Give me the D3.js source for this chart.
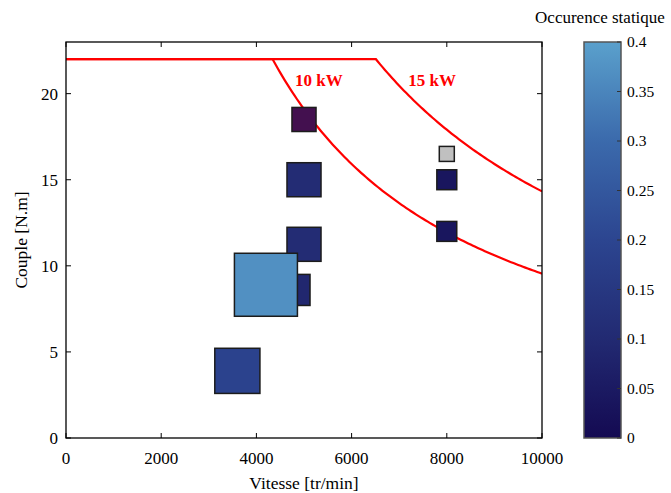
<!DOCTYPE html>
<html><head><meta charset="utf-8">
<script src="https://cdn.jsdelivr.net/npm/d3@7"></script>
<style>body{margin:0;background:#fff}svg{display:block}text{font-family:"Liberation Serif","Times New Roman",serif}</style>
</head><body><svg id="c" width="671" height="493"></svg>
<script>
// Data
const speeds = [4800, 5000, 5000, 5000, 4200, 3600, 8000, 8000, 8000];
const torques = [8.6, 18.5, 15.0, 11.25, 8.9, 3.9, 16.5, 15.0, 12.0];
const occurrences = [0.09, 0.054, 0.108, 0.108, 0.37, 0.19, 0.021, 0.037, 0.037];
const specialColor = [null, "#43104f", null, null, null, null, "#c0c0c0", null, null];
const powerLevels = [10, 15]; // kW
const powerLabels = ["10 kW", "15 kW"];
const maxTorque = 22;
const xTicks = [0, 2000, 4000, 6000, 8000, 10000];
const yTicks = [0, 5, 10, 15, 20];
const cbTicks = [0, 0.05, 0.1, 0.15, 0.2, 0.25, 0.3, 0.35, 0.4];
const cmapStops = [0, 0.1, 0.2, 0.3, 0.4];
const cmapColors = ["#140a52", "#222a72", "#2c4590", "#3b6aac", "#5aa0cc"];

const svg = d3.select("#c");
const m = {l: 66, r: 542, t: 42, b: 438};
const x = d3.scaleLinear().domain([0, 10000]).range([m.l, m.r]);
const y = d3.scaleLinear().domain([0, 23]).range([m.b, m.t]);
const color = d3.scaleLinear().domain(cmapStops).range(cmapColors).interpolate(d3.interpolateRgb);
const side = d3.scaleSqrt().domain([0, 0.37]).range([0, 63]);

// clip
svg.append("defs").append("clipPath").attr("id", "clip").append("rect")
  .attr("x", m.l).attr("y", m.t).attr("width", m.r - m.l).attr("height", m.b - m.t);

// power curves
const g = svg.append("g").attr("clip-path", "url(#clip)");
powerLevels.forEach(p => {
  const nBreak = p * 1000 * 60 / (2 * Math.PI * maxTorque);
  const pts = [[0, maxTorque], [nBreak, maxTorque]];
  for (let n = Math.ceil(nBreak / 50) * 50; n <= 10000; n += 50) pts.push([n, p * 1000 * 60 / (2 * Math.PI * n)]);
  g.append("path").datum(pts)
    .attr("d", d3.line().x(d => x(d[0])).y(d => y(d[1])))
    .attr("fill", "none").attr("stroke", "#ff0000").attr("stroke-width", 2.2);
});

// labels
const labelPos = [[4810, 20.45], [7190, 20.45]];
powerLabels.forEach((t, i) => {
  svg.append("text").attr("x", x(labelPos[i][0])).attr("y", y(labelPos[i][1]))
    .attr("fill", "#ff0000").attr("font-weight", "bold").attr("font-size", 17).text(t);
});

// squares
speeds.forEach((s, i) => {
  const w = side(occurrences[i]);
  g.append("rect").attr("x", x(s) - w / 2).attr("y", y(torques[i]) - w / 2)
    .attr("width", w).attr("height", w)
    .attr("fill", specialColor[i] || color(occurrences[i]))
    .attr("stroke", "#1c1c1c").attr("stroke-width", 1.5);
});

// axes frame
const axCol = "#000";
svg.append("rect").attr("x", m.l).attr("y", m.t).attr("width", m.r - m.l).attr("height", m.b - m.t)
  .attr("fill", "none").attr("stroke", axCol).attr("stroke-width", 1.3);
xTicks.forEach(v => {
  svg.append("line").attr("x1", x(v)).attr("x2", x(v)).attr("y1", m.b).attr("y2", m.b - 5).attr("stroke", axCol);
  svg.append("line").attr("x1", x(v)).attr("x2", x(v)).attr("y1", m.t).attr("y2", m.t + 5).attr("stroke", axCol);
  svg.append("text").attr("x", x(v)).attr("y", 464).attr("text-anchor", "middle").attr("font-size", 17).text(v);
});
yTicks.forEach(v => {
  svg.append("line").attr("x1", m.l).attr("x2", m.l + 5).attr("y1", y(v)).attr("y2", y(v)).attr("stroke", axCol);
  svg.append("line").attr("x1", m.r).attr("x2", m.r - 5).attr("y1", y(v)).attr("y2", y(v)).attr("stroke", axCol);
  svg.append("text").attr("x", 58).attr("y", y(v) + 6).attr("text-anchor", "end").attr("font-size", 17).text(v);
});
svg.append("text").attr("x", (m.l + m.r) / 2).attr("y", 489).attr("text-anchor", "middle").attr("font-size", 17.5).text("Vitesse [tr/min]");
svg.append("text").attr("transform", "translate(27," + ((m.t + m.b) / 2) + ") rotate(-90)")
  .attr("text-anchor", "middle").attr("font-size", 17.5).text("Couple [N.m]");

// colorbar
const cb = {x: 584, w: 37};
const cy = d3.scaleLinear().domain([0, 0.4]).range([m.b, m.t]);
const grad = svg.select("defs").append("linearGradient").attr("id", "cbg").attr("x1", 0).attr("x2", 0).attr("y1", 1).attr("y2", 0);
cmapStops.forEach((s, i) => grad.append("stop").attr("offset", s / 0.4).attr("stop-color", cmapColors[i]));
svg.append("rect").attr("x", cb.x).attr("y", m.t).attr("width", cb.w).attr("height", m.b - m.t)
  .attr("fill", "url(#cbg)").attr("stroke", "#555").attr("stroke-width", 1.5);
cbTicks.forEach(v => {
  svg.append("line").attr("x1", cb.x + cb.w).attr("x2", cb.x + cb.w - 4).attr("y1", cy(v)).attr("y2", cy(v)).attr("stroke", "#333");
  svg.append("text").attr("x", 627).attr("y", cy(v) + 5).attr("font-size", 15.5).text(v);
});
svg.append("text").attr("x", 600).attr("y", 23).attr("text-anchor", "middle").attr("font-size", 17).text("Occurence statique");
</script></body></html>
